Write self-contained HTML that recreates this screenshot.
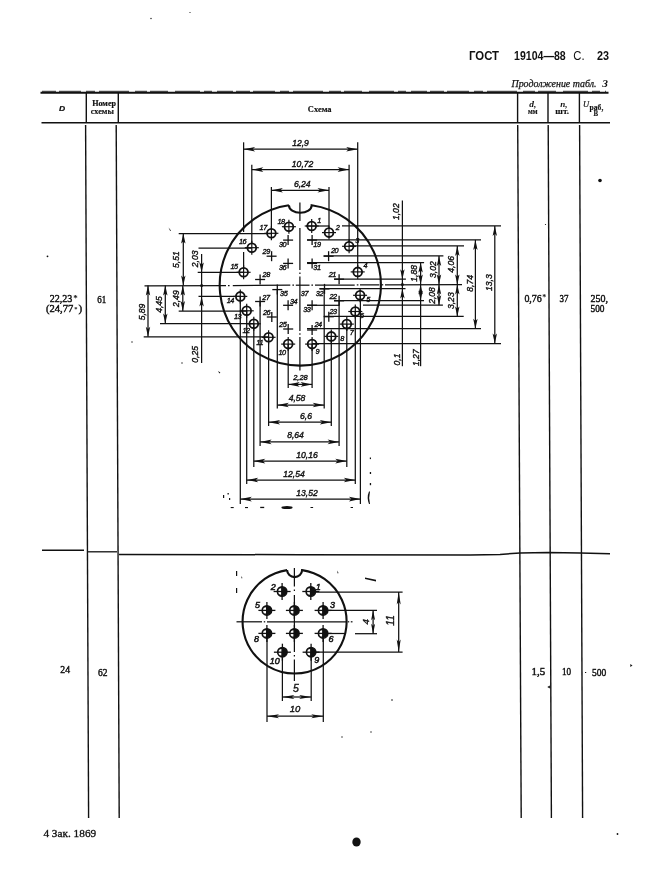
<!DOCTYPE html>
<html><head><meta charset="utf-8"><title>ГОСТ 19104-88 С. 23</title>
<style>
html,body{margin:0;padding:0;background:#fff;}
body{width:657px;height:878px;overflow:hidden;position:relative;font-family:"Liberation Serif",serif;color:#111;}
svg{position:absolute;left:0;top:0;display:block;filter:grayscale(1);}
svg text{fill:#111;}
svg text.n{letter-spacing:-0.45px;}
svg text.e{stroke-width:0.5px !important;}
svg text.d{font-family:"Liberation Sans",sans-serif;font-style:italic;fill:#111;stroke:#111;stroke-width:0.38px;}
</style></head><body>
<svg width="657" height="878" viewBox="0 0 657 878">
<g>
<text x="469" y="59.8" font-family="Liberation Sans" font-size="12.5" font-weight="bold" font-style="normal" text-anchor="start" textLength="30" lengthAdjust="spacingAndGlyphs">ГОСТ</text>
<text x="514" y="59.8" font-family="Liberation Sans" font-size="12.5" font-weight="bold" font-style="normal" text-anchor="start" textLength="51.7" lengthAdjust="spacingAndGlyphs">19104—88</text>
<text x="573.3" y="59.8" font-family="Liberation Sans" font-size="12.5" font-weight="normal" font-style="normal" text-anchor="start" textLength="11.3" lengthAdjust="spacingAndGlyphs">С.</text>
<text x="597" y="59.8" font-family="Liberation Sans" font-size="12.5" font-weight="bold" font-style="normal" text-anchor="start" textLength="12" lengthAdjust="spacingAndGlyphs">23</text>
<text x="511.5" y="87.3" font-family="Liberation Serif" font-size="10.5" font-weight="normal" font-style="italic" text-anchor="start" textLength="85" lengthAdjust="spacingAndGlyphs" stroke="#111" stroke-width="0.25">Продолжение табл.</text>
<text x="602.3" y="87.3" font-family="Liberation Serif" font-size="10.5" font-weight="bold" font-style="italic" text-anchor="start" textLength="5.7" lengthAdjust="spacingAndGlyphs">3</text>
<text x="59" y="111" font-family="Liberation Sans" font-size="7.2" font-weight="bold" font-style="italic" text-anchor="start" textLength="6.2" lengthAdjust="spacingAndGlyphs" stroke="#111" stroke-width="0.2">D</text>
<text x="92.2" y="106.1" font-family="Liberation Serif" font-size="7.8" font-weight="bold" font-style="normal" text-anchor="start" textLength="23.8" lengthAdjust="spacingAndGlyphs" stroke="#111" stroke-width="0.2">Номер</text>
<text x="90.7" y="113.7" font-family="Liberation Serif" font-size="9" font-weight="bold" font-style="normal" text-anchor="start" textLength="23.2" lengthAdjust="spacingAndGlyphs" stroke="#111" stroke-width="0.15">схемы</text>
<text x="307.8" y="111.7" font-family="Liberation Serif" font-size="9" font-weight="bold" font-style="normal" text-anchor="start" textLength="23.8" lengthAdjust="spacingAndGlyphs" stroke="#111" stroke-width="0.15">Схема</text>
<text x="529.2" y="106.7" font-family="Liberation Serif" font-size="8.5" font-weight="bold" font-style="italic" text-anchor="start" textLength="7.1" lengthAdjust="spacingAndGlyphs">d,</text>
<text x="527.9" y="113.6" font-family="Liberation Serif" font-size="9" font-weight="bold" font-style="normal" text-anchor="start" textLength="9.6" lengthAdjust="spacingAndGlyphs" stroke="#111" stroke-width="0.15">мм</text>
<text x="560.2" y="106.9" font-family="Liberation Serif" font-size="8.5" font-weight="bold" font-style="italic" text-anchor="start" textLength="7.3" lengthAdjust="spacingAndGlyphs">n,</text>
<text x="555.3" y="113.8" font-family="Liberation Serif" font-size="9" font-weight="bold" font-style="normal" text-anchor="start" textLength="13.7" lengthAdjust="spacingAndGlyphs" stroke="#111" stroke-width="0.15">шт.</text>
<text x="583" y="106.5" font-family="Liberation Serif" font-size="8.2" font-weight="normal" font-style="italic" text-anchor="start" textLength="6.1" lengthAdjust="spacingAndGlyphs" stroke="#111" stroke-width="0.2">U</text>
<text x="589.6" y="110.4" font-family="Liberation Serif" font-size="8" font-weight="bold" font-style="normal" text-anchor="start" textLength="13.7" lengthAdjust="spacingAndGlyphs" stroke="#111" stroke-width="0.15">раб,</text>
<text x="593.4" y="116" font-family="Liberation Serif" font-size="8" font-weight="bold" font-style="normal" text-anchor="start" textLength="4.6" lengthAdjust="spacingAndGlyphs" stroke="#111" stroke-width="0.15">В</text>
<text x="49.8" y="302" font-family="Liberation Serif" font-size="11" font-weight="normal" font-style="normal" text-anchor="start" textLength="22.6" lengthAdjust="spacingAndGlyphs" stroke="#111" stroke-width="0.45">22,23</text>
<text x="73.2" y="300.5" font-family="Liberation Serif" font-size="9" font-weight="bold" font-style="normal" text-anchor="start">*</text>
<text x="46" y="312" font-family="Liberation Serif" font-size="11" font-weight="normal" font-style="normal" text-anchor="start" textLength="27.2" lengthAdjust="spacingAndGlyphs" stroke="#111" stroke-width="0.45">(24,77</text>
<text x="74.3" y="310.5" font-family="Liberation Serif" font-size="6.5" font-weight="bold" font-style="normal" text-anchor="start">*</text>
<text x="78.6" y="312" font-family="Liberation Serif" font-size="11" font-weight="normal" font-style="normal" text-anchor="start" stroke="#111" stroke-width="0.45">)</text>
<text x="97.3" y="302.6" font-family="Liberation Serif" font-size="11" font-weight="normal" font-style="normal" text-anchor="start" textLength="8.9" lengthAdjust="spacingAndGlyphs" stroke="#111" stroke-width="0.45">61</text>
<text x="524.4" y="301.8" font-family="Liberation Serif" font-size="11" font-weight="normal" font-style="normal" text-anchor="start" textLength="17.4" lengthAdjust="spacingAndGlyphs" stroke="#111" stroke-width="0.45">0,76</text>
<text x="542.3" y="300" font-family="Liberation Serif" font-size="8" font-weight="bold" font-style="normal" text-anchor="start">*</text>
<text x="559.5" y="301.8" font-family="Liberation Serif" font-size="11" font-weight="normal" font-style="normal" text-anchor="start" textLength="8.9" lengthAdjust="spacingAndGlyphs" stroke="#111" stroke-width="0.45">37</text>
<text x="590.5" y="301.8" font-family="Liberation Serif" font-size="11" font-weight="normal" font-style="normal" text-anchor="start" textLength="17.5" lengthAdjust="spacingAndGlyphs" stroke="#111" stroke-width="0.45">250,</text>
<text x="590.5" y="312" font-family="Liberation Serif" font-size="11" font-weight="normal" font-style="normal" text-anchor="start" textLength="14" lengthAdjust="spacingAndGlyphs" stroke="#111" stroke-width="0.45">500</text>
<text x="60.3" y="672.8" font-family="Liberation Serif" font-size="11" font-weight="normal" font-style="normal" text-anchor="start" textLength="9.7" lengthAdjust="spacingAndGlyphs" stroke="#111" stroke-width="0.45">24</text>
<text x="98" y="675.9" font-family="Liberation Serif" font-size="11" font-weight="normal" font-style="normal" text-anchor="start" textLength="9.5" lengthAdjust="spacingAndGlyphs" stroke="#111" stroke-width="0.45">62</text>
<text x="531.6" y="675.2" font-family="Liberation Serif" font-size="11" font-weight="normal" font-style="normal" text-anchor="start" textLength="13.7" lengthAdjust="spacingAndGlyphs" stroke="#111" stroke-width="0.45">1,5</text>
<text x="562" y="675.2" font-family="Liberation Serif" font-size="11" font-weight="normal" font-style="normal" text-anchor="start" textLength="9.2" lengthAdjust="spacingAndGlyphs" stroke="#111" stroke-width="0.45">10</text>
<text x="591.9" y="675.9" font-family="Liberation Serif" font-size="11" font-weight="normal" font-style="normal" text-anchor="start" textLength="14.3" lengthAdjust="spacingAndGlyphs" stroke="#111" stroke-width="0.45">500</text>
<text x="43.4" y="836.6" font-family="Liberation Serif" font-size="10.5" font-weight="normal" font-style="normal" text-anchor="start" textLength="52.8" lengthAdjust="spacingAndGlyphs" stroke="#111" stroke-width="0.3">4 Зак. 1869</text>
</g>
<g stroke="#111" fill="none" stroke-linecap="butt">
<line x1="40.5" y1="92.7" x2="608.5" y2="92.7" stroke-width="1.9" />
<line x1="42.0" y1="91.3" x2="606.0" y2="91.3" stroke-width="0.9" stroke-dasharray="14 3 22 5 9 4 30 6 12 3 18 7 25 4 8 5 16 3"/>
<line x1="41.5" y1="122.7" x2="610.0" y2="122.7" stroke-width="1.6" />
<line x1="86.3" y1="93.0" x2="86.3" y2="122.0" stroke-width="1.4" />
<line x1="118.3" y1="93.0" x2="118.3" y2="122.0" stroke-width="1.4" />
<line x1="517.6" y1="93.0" x2="517.6" y2="122.0" stroke-width="1.4" />
<line x1="548.0" y1="93.0" x2="548.0" y2="122.0" stroke-width="1.4" />
<line x1="579.4" y1="93.0" x2="579.4" y2="122.0" stroke-width="1.4" />
<line x1="85.6" y1="125.0" x2="88.6" y2="818.0" stroke-width="1.4" />
<line x1="116.2" y1="125.0" x2="119.2" y2="818.0" stroke-width="1.4" />
<line x1="517.7" y1="125.0" x2="521.2" y2="818.0" stroke-width="1.4" />
<line x1="548.2" y1="125.0" x2="551.4" y2="818.0" stroke-width="1.4" />
<line x1="579.6" y1="125.0" x2="582.6" y2="818.0" stroke-width="1.4" />
<line x1="42.0" y1="550.2" x2="84.0" y2="550.2" stroke-width="1.5" />
<line x1="88.0" y1="551.8" x2="117.0" y2="551.8" stroke-width="1.3" />
<path d="M119,554.4 L300,554.7 L470,555 L500,554.4 L520,553 L548,552.5 L580,553.1 L610,553.7" stroke-width="1.5"/>
</g>
<g stroke="#111" fill="none">
<path d="M288.9,205.2 A80.6,80.6 0 1 0 311.7,205.2 A11.4,7.6 0 0 1 288.9,205.2" stroke-width="2.1"/>
<line x1="144.5" y1="285.9" x2="226.0" y2="285.5" stroke-width="1.25" />
<line x1="228.0" y1="285.5" x2="229.6" y2="285.5" stroke-width="1.25" />
<line x1="232.8" y1="285.5" x2="290.3" y2="285.2" stroke-width="1.25" />
<line x1="292.4" y1="285.2" x2="294.0" y2="285.2" stroke-width="1.25" />
<line x1="295.8" y1="285.2" x2="309.5" y2="285.2" stroke-width="1.25" />
<line x1="311.4" y1="285.1" x2="313.0" y2="285.1" stroke-width="1.25" />
<line x1="315.0" y1="285.1" x2="354.7" y2="285.0" stroke-width="1.25" />
<line x1="356.8" y1="284.9" x2="358.4" y2="284.9" stroke-width="1.25" />
<line x1="360.0" y1="284.9" x2="379.4" y2="284.8" stroke-width="1.25" />
<line x1="381.6" y1="284.8" x2="383.2" y2="284.8" stroke-width="1.25" />
<line x1="385.0" y1="284.8" x2="462.0" y2="284.5" stroke-width="1.25" />
<line x1="299.9" y1="202.5" x2="299.9" y2="221.0" stroke-width="1.25" />
<line x1="299.9" y1="228.0" x2="299.9" y2="270.0" stroke-width="1.25" />
<line x1="299.9" y1="272.4" x2="299.9" y2="274.0" stroke-width="1.25" />
<line x1="299.9" y1="276.5" x2="299.9" y2="331.0" stroke-width="1.25" />
<line x1="299.9" y1="333.2" x2="299.9" y2="334.8" stroke-width="1.25" />
<line x1="299.9" y1="337.0" x2="299.9" y2="370.5" stroke-width="1.25" />
<line x1="243.6" y1="142.3" x2="243.6" y2="232.0" stroke-width="1.25" />
<line x1="243.6" y1="252.0" x2="243.6" y2="268.0" stroke-width="1.25" />
<line x1="251.8" y1="164.8" x2="251.8" y2="244.0" stroke-width="1.25" />
<line x1="271.4" y1="187.0" x2="271.4" y2="229.0" stroke-width="1.25" />
<line x1="329.0" y1="187.0" x2="329.0" y2="228.0" stroke-width="1.25" />
<line x1="349.1" y1="164.8" x2="349.1" y2="242.0" stroke-width="1.25" />
<line x1="357.7" y1="142.3" x2="357.7" y2="268.0" stroke-width="1.25" />
<line x1="243.6" y1="149.2" x2="357.7" y2="149.2" stroke-width="1.25" />
<polygon points="243.6,149.2 255.1,146.9 252.6,149.2 255.1,151.5" fill="#111" stroke="none"/>
<polygon points="357.7,149.2 346.2,146.9 348.7,149.2 346.2,151.5" fill="#111" stroke="none"/>
<text x="300.5" y="143.3" class="d" font-size="8.6" text-anchor="middle" dominant-baseline="central">12,9</text>
<line x1="251.8" y1="169.6" x2="349.1" y2="169.6" stroke-width="1.25" />
<polygon points="251.8,169.6 263.3,167.3 260.8,169.6 263.3,171.9" fill="#111" stroke="none"/>
<polygon points="349.1,169.6 337.6,167.3 340.1,169.6 337.6,171.9" fill="#111" stroke="none"/>
<text x="302.6" y="163.7" class="d" font-size="8.6" text-anchor="middle" dominant-baseline="central">10,72</text>
<line x1="271.4" y1="190.3" x2="329.0" y2="190.3" stroke-width="1.25" />
<polygon points="271.4,190.3 282.9,188.0 280.4,190.3 282.9,192.6" fill="#111" stroke="none"/>
<polygon points="329.0,190.3 317.5,188.0 320.0,190.3 317.5,192.6" fill="#111" stroke="none"/>
<text x="302.3" y="184.3" class="d" font-size="8.6" text-anchor="middle" dominant-baseline="central">6,24</text>
<circle cx="311.7" cy="226.0" r="4.4" fill="none" stroke-width="1.8"/>
<line x1="304.7" y1="226.0" x2="318.7" y2="226.0" stroke-width="1.2" />
<line x1="311.7" y1="219.0" x2="311.7" y2="233.0" stroke-width="1.2" />
<circle cx="329.0" cy="232.6" r="4.4" fill="none" stroke-width="1.8"/>
<line x1="322.0" y1="232.6" x2="336.0" y2="232.6" stroke-width="1.2" />
<line x1="329.0" y1="225.6" x2="329.0" y2="239.6" stroke-width="1.2" />
<circle cx="349.1" cy="246.3" r="4.4" fill="none" stroke-width="1.8"/>
<line x1="342.1" y1="246.3" x2="356.1" y2="246.3" stroke-width="1.2" />
<line x1="349.1" y1="239.3" x2="349.1" y2="253.3" stroke-width="1.2" />
<circle cx="357.7" cy="271.9" r="4.4" fill="none" stroke-width="1.8"/>
<line x1="350.7" y1="271.9" x2="364.7" y2="271.9" stroke-width="1.2" />
<line x1="357.7" y1="264.9" x2="357.7" y2="278.9" stroke-width="1.2" />
<circle cx="360.1" cy="295.3" r="4.4" fill="none" stroke-width="1.8"/>
<line x1="353.1" y1="295.3" x2="367.1" y2="295.3" stroke-width="1.2" />
<line x1="360.1" y1="288.3" x2="360.1" y2="302.3" stroke-width="1.2" />
<circle cx="355.3" cy="311.5" r="4.4" fill="none" stroke-width="1.8"/>
<line x1="348.3" y1="311.5" x2="362.3" y2="311.5" stroke-width="1.2" />
<line x1="355.3" y1="304.5" x2="355.3" y2="318.5" stroke-width="1.2" />
<circle cx="346.8" cy="324.1" r="4.4" fill="none" stroke-width="1.8"/>
<line x1="339.8" y1="324.1" x2="353.8" y2="324.1" stroke-width="1.2" />
<line x1="346.8" y1="317.1" x2="346.8" y2="331.1" stroke-width="1.2" />
<circle cx="331.3" cy="336.4" r="4.4" fill="none" stroke-width="1.8"/>
<line x1="324.3" y1="336.4" x2="338.3" y2="336.4" stroke-width="1.2" />
<line x1="331.3" y1="329.4" x2="331.3" y2="343.4" stroke-width="1.2" />
<circle cx="312.1" cy="344.1" r="4.4" fill="none" stroke-width="1.8"/>
<line x1="305.1" y1="344.1" x2="319.1" y2="344.1" stroke-width="1.2" />
<line x1="312.1" y1="337.1" x2="312.1" y2="351.1" stroke-width="1.2" />
<circle cx="288.2" cy="344.1" r="4.4" fill="none" stroke-width="1.8"/>
<line x1="281.2" y1="344.1" x2="295.2" y2="344.1" stroke-width="1.2" />
<line x1="288.2" y1="337.1" x2="288.2" y2="351.1" stroke-width="1.2" />
<circle cx="268.6" cy="337.3" r="4.4" fill="none" stroke-width="1.8"/>
<line x1="261.6" y1="337.3" x2="275.6" y2="337.3" stroke-width="1.2" />
<line x1="268.6" y1="330.3" x2="268.6" y2="344.3" stroke-width="1.2" />
<circle cx="253.8" cy="323.8" r="4.4" fill="none" stroke-width="1.8"/>
<line x1="246.8" y1="323.8" x2="260.8" y2="323.8" stroke-width="1.2" />
<line x1="253.8" y1="316.8" x2="253.8" y2="330.8" stroke-width="1.2" />
<circle cx="246.7" cy="310.8" r="4.4" fill="none" stroke-width="1.8"/>
<line x1="239.7" y1="310.8" x2="253.7" y2="310.8" stroke-width="1.2" />
<line x1="246.7" y1="303.8" x2="246.7" y2="317.8" stroke-width="1.2" />
<circle cx="240.3" cy="296.4" r="4.4" fill="none" stroke-width="1.8"/>
<line x1="233.3" y1="296.4" x2="247.3" y2="296.4" stroke-width="1.2" />
<line x1="240.3" y1="289.4" x2="240.3" y2="303.4" stroke-width="1.2" />
<circle cx="243.6" cy="272.3" r="4.4" fill="none" stroke-width="1.8"/>
<line x1="236.6" y1="272.3" x2="250.6" y2="272.3" stroke-width="1.2" />
<line x1="243.6" y1="265.3" x2="243.6" y2="279.3" stroke-width="1.2" />
<circle cx="251.8" cy="247.7" r="4.4" fill="none" stroke-width="1.8"/>
<line x1="244.8" y1="247.7" x2="258.8" y2="247.7" stroke-width="1.2" />
<line x1="251.8" y1="240.7" x2="251.8" y2="254.7" stroke-width="1.2" />
<circle cx="271.4" cy="233.3" r="4.4" fill="none" stroke-width="1.8"/>
<line x1="264.4" y1="233.3" x2="278.4" y2="233.3" stroke-width="1.2" />
<line x1="271.4" y1="226.3" x2="271.4" y2="240.3" stroke-width="1.2" />
<circle cx="288.9" cy="226.7" r="4.4" fill="none" stroke-width="1.8"/>
<line x1="281.9" y1="226.7" x2="295.9" y2="226.7" stroke-width="1.2" />
<line x1="288.9" y1="219.7" x2="288.9" y2="233.7" stroke-width="1.2" />
<line x1="307.1" y1="240.1" x2="317.1" y2="240.1" stroke-width="1.3" />
<line x1="312.1" y1="235.1" x2="312.1" y2="245.1" stroke-width="1.3" />
<line x1="323.6" y1="256.2" x2="333.6" y2="256.2" stroke-width="1.3" />
<line x1="328.6" y1="251.2" x2="328.6" y2="261.2" stroke-width="1.3" />
<line x1="334.1" y1="279.2" x2="344.1" y2="279.2" stroke-width="1.3" />
<line x1="339.1" y1="274.2" x2="339.1" y2="284.2" stroke-width="1.3" />
<line x1="334.1" y1="300.8" x2="344.1" y2="300.8" stroke-width="1.3" />
<line x1="339.1" y1="295.8" x2="339.1" y2="305.8" stroke-width="1.3" />
<line x1="323.8" y1="316.7" x2="333.8" y2="316.7" stroke-width="1.3" />
<line x1="328.8" y1="311.7" x2="328.8" y2="321.7" stroke-width="1.3" />
<line x1="307.1" y1="330.0" x2="317.1" y2="330.0" stroke-width="1.3" />
<line x1="312.1" y1="325.0" x2="312.1" y2="335.0" stroke-width="1.3" />
<line x1="283.2" y1="329.0" x2="293.2" y2="329.0" stroke-width="1.3" />
<line x1="288.2" y1="324.0" x2="288.2" y2="334.0" stroke-width="1.3" />
<line x1="266.8" y1="317.0" x2="276.8" y2="317.0" stroke-width="1.3" />
<line x1="271.8" y1="312.0" x2="271.8" y2="322.0" stroke-width="1.3" />
<line x1="255.1" y1="301.5" x2="265.1" y2="301.5" stroke-width="1.3" />
<line x1="260.1" y1="296.5" x2="260.1" y2="306.5" stroke-width="1.3" />
<line x1="255.1" y1="279.5" x2="265.1" y2="279.5" stroke-width="1.3" />
<line x1="260.1" y1="274.5" x2="260.1" y2="284.5" stroke-width="1.3" />
<line x1="266.6" y1="256.2" x2="276.6" y2="256.2" stroke-width="1.3" />
<line x1="271.6" y1="251.2" x2="271.6" y2="261.2" stroke-width="1.3" />
<line x1="283.1" y1="240.1" x2="293.1" y2="240.1" stroke-width="1.3" />
<line x1="288.1" y1="235.1" x2="288.1" y2="245.1" stroke-width="1.3" />
<line x1="307.1" y1="263.4" x2="317.1" y2="263.4" stroke-width="1.3" />
<line x1="312.1" y1="258.4" x2="312.1" y2="268.4" stroke-width="1.3" />
<line x1="319.5" y1="288.9" x2="329.5" y2="288.9" stroke-width="1.3" />
<line x1="324.5" y1="283.9" x2="324.5" y2="293.9" stroke-width="1.3" />
<line x1="307.1" y1="305.3" x2="317.1" y2="305.3" stroke-width="1.3" />
<line x1="312.1" y1="300.3" x2="312.1" y2="310.3" stroke-width="1.3" />
<line x1="283.1" y1="305.3" x2="293.1" y2="305.3" stroke-width="1.3" />
<line x1="288.1" y1="300.3" x2="288.1" y2="310.3" stroke-width="1.3" />
<line x1="272.3" y1="289.6" x2="282.3" y2="289.6" stroke-width="1.3" />
<line x1="277.3" y1="284.6" x2="277.3" y2="294.6" stroke-width="1.3" />
<line x1="283.1" y1="263.4" x2="293.1" y2="263.4" stroke-width="1.3" />
<line x1="288.1" y1="258.4" x2="288.1" y2="268.4" stroke-width="1.3" />
<line x1="178.7" y1="233.6" x2="271.4" y2="233.6" stroke-width="1.25" />
<line x1="198.5" y1="248.0" x2="251.8" y2="248.0" stroke-width="1.25" />
<line x1="197.7" y1="272.4" x2="243.6" y2="272.4" stroke-width="1.25" />
<line x1="198.5" y1="296.4" x2="240.3" y2="296.4" stroke-width="1.25" />
<line x1="178.7" y1="311.1" x2="246.7" y2="311.1" stroke-width="1.25" />
<line x1="160.0" y1="323.6" x2="253.8" y2="323.6" stroke-width="1.25" />
<line x1="143.7" y1="336.8" x2="268.6" y2="336.8" stroke-width="1.25" />
<line x1="183.3" y1="233.6" x2="183.3" y2="285.6" stroke-width="1.25" />
<polygon points="183.3,233.6 181.1,243.6 183.3,241.4 185.5,243.6" fill="#111" stroke="none"/>
<polygon points="183.3,285.6 181.1,275.6 183.3,277.8 185.5,275.6" fill="#111" stroke="none"/>
<text transform="translate(176.4,259.6) rotate(-90)" class="d" font-size="8.6" text-anchor="middle" dominant-baseline="central">5,51</text>
<line x1="148.0" y1="285.6" x2="148.0" y2="336.8" stroke-width="1.25" />
<polygon points="148.0,285.6 145.8,295.6 148.0,293.4 150.2,295.6" fill="#111" stroke="none"/>
<polygon points="148.0,336.8 145.8,326.8 148.0,329.0 150.2,326.8" fill="#111" stroke="none"/>
<text transform="translate(141.8,312.0) rotate(-90)" class="d" font-size="8.6" text-anchor="middle" dominant-baseline="central">5,89</text>
<line x1="165.3" y1="285.6" x2="165.3" y2="323.6" stroke-width="1.25" />
<polygon points="165.3,285.6 163.1,295.6 165.3,293.4 167.5,295.6" fill="#111" stroke="none"/>
<polygon points="165.3,323.6 163.1,313.6 165.3,315.8 167.5,313.6" fill="#111" stroke="none"/>
<text transform="translate(159.0,304.5) rotate(-90)" class="d" font-size="8.6" text-anchor="middle" dominant-baseline="central">4,45</text>
<line x1="182.8" y1="285.6" x2="182.8" y2="311.1" stroke-width="1.25" />
<polygon points="182.8,285.6 180.6,295.6 182.8,293.4 185.0,295.6" fill="#111" stroke="none"/>
<polygon points="182.8,311.1 180.6,301.1 182.8,303.3 185.0,301.1" fill="#111" stroke="none"/>
<text transform="translate(176.0,298.7) rotate(-90)" class="d" font-size="8.6" text-anchor="middle" dominant-baseline="central">2,49</text>
<line x1="201.6" y1="254.0" x2="201.6" y2="363.0" stroke-width="1.25" />
<polygon points="201.6,272.4 199.4,262.4 201.6,264.6 203.8,262.4" fill="#111" stroke="none"/>
<polygon points="201.6,296.4 199.4,306.4 201.6,304.2 203.8,306.4" fill="#111" stroke="none"/>
<circle cx="201.6" cy="285.6" r="1.5" fill="#111" stroke="none"/>
<text transform="translate(195.1,258.8) rotate(-90)" class="d" font-size="8.6" text-anchor="middle" dominant-baseline="central">2,03</text>
<text transform="translate(194.9,354.4) rotate(-90)" class="d" font-size="8.6" text-anchor="middle" dominant-baseline="central">0,25</text>
<line x1="306.0" y1="226.0" x2="329.0" y2="226.0" stroke-width="1.25" />
<line x1="342.0" y1="225.9" x2="501.0" y2="225.9" stroke-width="1.25" />
<line x1="307.0" y1="239.9" x2="481.0" y2="239.9" stroke-width="1.25" />
<line x1="349.1" y1="245.9" x2="464.0" y2="245.9" stroke-width="1.25" />
<line x1="323.6" y1="255.9" x2="443.4" y2="255.9" stroke-width="1.25" />
<line x1="307.0" y1="262.6" x2="424.1" y2="262.6" stroke-width="1.25" />
<line x1="334.0" y1="279.2" x2="405.9" y2="279.2" stroke-width="1.25" />
<line x1="319.5" y1="288.5" x2="405.5" y2="288.5" stroke-width="1.25" />
<line x1="334.0" y1="300.5" x2="424.0" y2="300.5" stroke-width="1.25" />
<line x1="307.0" y1="305.3" x2="339.0" y2="305.3" stroke-width="1.25" />
<line x1="363.0" y1="305.2" x2="442.9" y2="305.2" stroke-width="1.25" />
<line x1="323.8" y1="316.4" x2="463.7" y2="316.4" stroke-width="1.25" />
<line x1="307.0" y1="328.7" x2="481.0" y2="328.7" stroke-width="1.25" />
<line x1="312.1" y1="343.5" x2="501.0" y2="343.5" stroke-width="1.25" />
<line x1="402.4" y1="200.5" x2="402.4" y2="366.2" stroke-width="1.25" />
<polygon points="402.4,279.2 400.2,269.2 402.4,271.4 404.6,269.2" fill="#111" stroke="none"/>
<polygon points="402.4,288.5 400.2,298.5 402.4,296.3 404.6,298.5" fill="#111" stroke="none"/>
<circle cx="402.4" cy="284.4" r="1.5" fill="#111" stroke="none"/>
<text transform="translate(396.4,211.7) rotate(-90)" class="d" font-size="8.6" text-anchor="middle" dominant-baseline="central">1,02</text>
<text transform="translate(396.7,359.5) rotate(-90)" class="d" font-size="8.6" text-anchor="middle" dominant-baseline="central">0,1</text>
<line x1="420.6" y1="262.6" x2="420.6" y2="366.2" stroke-width="1.25" />
<polygon points="420.6,262.6 418.4,272.6 420.6,270.4 422.8,272.6" fill="#111" stroke="none"/>
<polygon points="420.6,284.4 418.4,274.4 420.6,276.6 422.8,274.4" fill="#111" stroke="none"/>
<polygon points="420.6,284.4 418.4,294.4 420.6,292.2 422.8,294.4" fill="#111" stroke="none"/>
<polygon points="420.6,300.5 418.4,290.5 420.6,292.7 422.8,290.5" fill="#111" stroke="none"/>
<text transform="translate(413.5,273.4) rotate(-90)" class="d" font-size="8.6" text-anchor="middle" dominant-baseline="central">1,88</text>
<text transform="translate(416.2,357.7) rotate(-90)" class="d" font-size="8.6" text-anchor="middle" dominant-baseline="central">1,27</text>
<line x1="439.0" y1="255.9" x2="439.0" y2="284.4" stroke-width="1.25" />
<polygon points="439.0,255.9 436.8,265.9 439.0,263.7 441.2,265.9" fill="#111" stroke="none"/>
<polygon points="439.0,284.4 436.8,274.4 439.0,276.6 441.2,274.4" fill="#111" stroke="none"/>
<text transform="translate(432.5,269.6) rotate(-90)" class="d" font-size="8.6" text-anchor="middle" dominant-baseline="central">3,02</text>
<line x1="439.0" y1="284.4" x2="439.0" y2="305.2" stroke-width="1.25" />
<polygon points="439.0,284.4 436.8,294.4 439.0,292.2 441.2,294.4" fill="#111" stroke="none"/>
<polygon points="439.0,305.2 436.8,295.2 439.0,297.4 441.2,295.2" fill="#111" stroke="none"/>
<text transform="translate(432.3,295.5) rotate(-90)" class="d" font-size="8.6" text-anchor="middle" dominant-baseline="central">2,08</text>
<line x1="457.3" y1="245.9" x2="457.3" y2="284.4" stroke-width="1.25" />
<polygon points="457.3,245.9 455.1,255.9 457.3,253.7 459.5,255.9" fill="#111" stroke="none"/>
<polygon points="457.3,284.4 455.1,274.4 457.3,276.6 459.5,274.4" fill="#111" stroke="none"/>
<text transform="translate(450.8,264.3) rotate(-90)" class="d" font-size="8.6" text-anchor="middle" dominant-baseline="central">4,06</text>
<line x1="457.3" y1="284.4" x2="457.3" y2="316.4" stroke-width="1.25" />
<polygon points="457.3,284.4 455.1,294.4 457.3,292.2 459.5,294.4" fill="#111" stroke="none"/>
<polygon points="457.3,316.4 455.1,306.4 457.3,308.6 459.5,306.4" fill="#111" stroke="none"/>
<text transform="translate(451.0,300.7) rotate(-90)" class="d" font-size="8.6" text-anchor="middle" dominant-baseline="central">3,23</text>
<line x1="475.4" y1="239.9" x2="475.4" y2="328.7" stroke-width="1.25" />
<polygon points="475.4,239.9 473.2,249.9 475.4,247.7 477.6,249.9" fill="#111" stroke="none"/>
<polygon points="475.4,328.7 473.2,318.7 475.4,320.9 477.6,318.7" fill="#111" stroke="none"/>
<text transform="translate(469.8,283.3) rotate(-90)" class="d" font-size="8.6" text-anchor="middle" dominant-baseline="central">8,74</text>
<line x1="494.8" y1="225.9" x2="494.8" y2="343.5" stroke-width="1.25" />
<polygon points="494.8,225.9 492.6,235.9 494.8,233.7 497.0,235.9" fill="#111" stroke="none"/>
<polygon points="494.8,343.5 492.6,333.5 494.8,335.7 497.0,333.5" fill="#111" stroke="none"/>
<text transform="translate(489.3,282.6) rotate(-90)" class="d" font-size="8.6" text-anchor="middle" dominant-baseline="central">13,3</text>
<line x1="240.3" y1="296.4" x2="240.3" y2="504.0" stroke-width="1.25" />
<line x1="246.7" y1="310.8" x2="246.7" y2="484.0" stroke-width="1.25" />
<line x1="253.8" y1="323.8" x2="253.8" y2="467.0" stroke-width="1.25" />
<line x1="260.1" y1="301.5" x2="260.1" y2="446.0" stroke-width="1.25" />
<line x1="268.6" y1="337.3" x2="268.6" y2="426.0" stroke-width="1.25" />
<line x1="277.3" y1="289.6" x2="277.3" y2="408.5" stroke-width="1.25" />
<line x1="288.2" y1="344.1" x2="288.2" y2="388.0" stroke-width="1.25" />
<line x1="312.1" y1="344.1" x2="312.1" y2="388.0" stroke-width="1.25" />
<line x1="324.2" y1="288.9" x2="324.2" y2="408.5" stroke-width="1.25" />
<line x1="331.3" y1="336.4" x2="331.3" y2="426.0" stroke-width="1.25" />
<line x1="339.1" y1="300.8" x2="339.1" y2="446.0" stroke-width="1.25" />
<line x1="346.8" y1="324.1" x2="346.8" y2="467.0" stroke-width="1.25" />
<line x1="355.3" y1="311.5" x2="355.3" y2="484.0" stroke-width="1.25" />
<line x1="360.4" y1="295.3" x2="360.4" y2="504.0" stroke-width="1.25" />
<line x1="288.2" y1="384.4" x2="312.1" y2="384.4" stroke-width="1.25" />
<polygon points="288.2,384.4 299.7,382.1 297.2,384.4 299.7,386.7" fill="#111" stroke="none"/>
<polygon points="312.1,384.4 300.6,382.1 303.1,384.4 300.6,386.7" fill="#111" stroke="none"/>
<text x="300.5" y="377.5" class="d" font-size="7.5" text-anchor="middle" dominant-baseline="central">2,28</text>
<line x1="277.3" y1="405.0" x2="324.2" y2="405.0" stroke-width="1.25" />
<polygon points="277.3,405.0 288.8,402.7 286.3,405.0 288.8,407.3" fill="#111" stroke="none"/>
<polygon points="324.2,405.0 312.7,402.7 315.2,405.0 312.7,407.3" fill="#111" stroke="none"/>
<text x="297.0" y="398.0" class="d" font-size="8.6" text-anchor="middle" dominant-baseline="central">4,58</text>
<line x1="268.6" y1="422.2" x2="331.3" y2="422.2" stroke-width="1.25" />
<polygon points="268.6,422.2 280.1,419.9 277.6,422.2 280.1,424.5" fill="#111" stroke="none"/>
<polygon points="331.3,422.2 319.8,419.9 322.3,422.2 319.8,424.5" fill="#111" stroke="none"/>
<text x="306.0" y="416.0" class="d" font-size="8.6" text-anchor="middle" dominant-baseline="central">6,6</text>
<line x1="260.1" y1="441.9" x2="339.1" y2="441.9" stroke-width="1.25" />
<polygon points="260.1,441.9 271.6,439.6 269.1,441.9 271.6,444.2" fill="#111" stroke="none"/>
<polygon points="339.1,441.9 327.6,439.6 330.1,441.9 327.6,444.2" fill="#111" stroke="none"/>
<text x="295.5" y="435.0" class="d" font-size="8.6" text-anchor="middle" dominant-baseline="central">8,64</text>
<line x1="253.8" y1="461.1" x2="346.8" y2="461.1" stroke-width="1.25" />
<polygon points="253.8,461.1 265.3,458.8 262.8,461.1 265.3,463.4" fill="#111" stroke="none"/>
<polygon points="346.8,461.1 335.3,458.8 337.8,461.1 335.3,463.4" fill="#111" stroke="none"/>
<text x="307.0" y="454.5" class="d" font-size="8.6" text-anchor="middle" dominant-baseline="central">10,16</text>
<line x1="246.7" y1="480.0" x2="355.3" y2="480.0" stroke-width="1.25" />
<polygon points="246.7,480.0 258.2,477.7 255.7,480.0 258.2,482.3" fill="#111" stroke="none"/>
<polygon points="355.3,480.0 343.8,477.7 346.3,480.0 343.8,482.3" fill="#111" stroke="none"/>
<text x="294.0" y="474.0" class="d" font-size="8.6" text-anchor="middle" dominant-baseline="central">12,54</text>
<line x1="240.3" y1="499.1" x2="360.4" y2="499.1" stroke-width="1.25" />
<polygon points="240.3,499.1 251.8,496.8 249.3,499.1 251.8,501.4" fill="#111" stroke="none"/>
<polygon points="360.4,499.1 348.9,496.8 351.4,499.1 348.9,501.4" fill="#111" stroke="none"/>
<text x="307.0" y="492.5" class="d" font-size="8.6" text-anchor="middle" dominant-baseline="central">13,52</text>
</g>
<text x="281.0" y="221.2" class="d n" font-size="7.3" text-anchor="middle" dominant-baseline="central">18</text>
<text x="263.2" y="227.1" class="d n" font-size="7.3" text-anchor="middle" dominant-baseline="central">17</text>
<text x="242.6" y="241.1" class="d n" font-size="7.3" text-anchor="middle" dominant-baseline="central">16</text>
<text x="234.1" y="266.0" class="d n" font-size="7.3" text-anchor="middle" dominant-baseline="central">15</text>
<text x="282.6" y="244.5" class="d n" font-size="7.3" text-anchor="middle" dominant-baseline="central">30</text>
<text x="266.2" y="251.4" class="d n" font-size="7.3" text-anchor="middle" dominant-baseline="central">29</text>
<text x="282.6" y="267.8" class="d n" font-size="7.3" text-anchor="middle" dominant-baseline="central">36</text>
<text x="266.2" y="274.7" class="d n" font-size="7.3" text-anchor="middle" dominant-baseline="central">28</text>
<text x="319.4" y="220.8" class="d" font-size="7.3" text-anchor="middle" dominant-baseline="central">1</text>
<text x="337.9" y="227.4" class="d" font-size="7.3" text-anchor="middle" dominant-baseline="central">2</text>
<text x="357.3" y="240.7" class="d" font-size="7.3" text-anchor="middle" dominant-baseline="central">3</text>
<text x="365.5" y="265.5" class="d" font-size="7.3" text-anchor="middle" dominant-baseline="central">4</text>
<text x="316.9" y="244.5" class="d n" font-size="7.3" text-anchor="middle" dominant-baseline="central">19</text>
<text x="334.5" y="250.7" class="d n" font-size="7.3" text-anchor="middle" dominant-baseline="central">20</text>
<text x="316.9" y="267.1" class="d n" font-size="7.3" text-anchor="middle" dominant-baseline="central">31</text>
<text x="332.3" y="274.0" class="d n" font-size="7.3" text-anchor="middle" dominant-baseline="central">21</text>
<text x="230.3" y="300.5" class="d n" font-size="7.3" text-anchor="middle" dominant-baseline="central">14</text>
<text x="237.5" y="316.3" class="d n" font-size="7.3" text-anchor="middle" dominant-baseline="central">13</text>
<text x="246.0" y="330.0" class="d n" font-size="7.3" text-anchor="middle" dominant-baseline="central">12</text>
<text x="259.7" y="342.3" class="d n" font-size="7.3" text-anchor="middle" dominant-baseline="central">11</text>
<text x="282.0" y="352.2" class="d n" font-size="7.3" text-anchor="middle" dominant-baseline="central">10</text>
<text x="283.7" y="293.7" class="d n" font-size="7.3" text-anchor="middle" dominant-baseline="central">35</text>
<text x="265.9" y="297.1" class="d n" font-size="7.3" text-anchor="middle" dominant-baseline="central">27</text>
<text x="293.6" y="301.2" class="d n" font-size="7.3" text-anchor="middle" dominant-baseline="central">34</text>
<text x="266.6" y="312.2" class="d n" font-size="7.3" text-anchor="middle" dominant-baseline="central">26</text>
<text x="282.7" y="324.5" class="d n" font-size="7.3" text-anchor="middle" dominant-baseline="central">25</text>
<text x="304.4" y="293.0" class="d n" font-size="7.3" text-anchor="middle" dominant-baseline="central">37</text>
<text x="368.3" y="299.9" class="d" font-size="7.3" text-anchor="middle" dominant-baseline="central">5</text>
<text x="362.1" y="315.9" class="d" font-size="7.3" text-anchor="middle" dominant-baseline="central">6</text>
<text x="351.8" y="332.7" class="d" font-size="7.3" text-anchor="middle" dominant-baseline="central">7</text>
<text x="342.3" y="338.6" class="d" font-size="7.3" text-anchor="middle" dominant-baseline="central">8</text>
<text x="317.6" y="351.9" class="d" font-size="7.3" text-anchor="middle" dominant-baseline="central">9</text>
<text x="319.4" y="293.0" class="d n" font-size="7.3" text-anchor="middle" dominant-baseline="central">32</text>
<text x="333.1" y="296.4" class="d n" font-size="7.3" text-anchor="middle" dominant-baseline="central">22</text>
<text x="306.8" y="309.5" class="d n" font-size="7.3" text-anchor="middle" dominant-baseline="central">33</text>
<text x="333.1" y="311.2" class="d n" font-size="7.3" text-anchor="middle" dominant-baseline="central">23</text>
<text x="318.0" y="324.1" class="d n" font-size="7.3" text-anchor="middle" dominant-baseline="central">24</text>
<g stroke="#111" fill="none">
<path d="M287.1,570.1 A52,52 0 1 0 302.1,570.1 A7.5,7 0 0 1 287.1,570.1" stroke-width="2.1"/>
<line x1="236.5" y1="621.8" x2="262.0" y2="621.8" stroke-width="1.25" />
<line x1="263.8" y1="621.8" x2="265.2" y2="621.8" stroke-width="1.25" />
<line x1="267.0" y1="621.8" x2="346.0" y2="621.8" stroke-width="1.25" />
<line x1="347.8" y1="621.8" x2="349.2" y2="621.8" stroke-width="1.25" />
<line x1="350.8" y1="621.8" x2="352.5" y2="621.8" stroke-width="1.25" />
<line x1="294.4" y1="568.0" x2="294.4" y2="586.5" stroke-width="1.25" />
<line x1="294.4" y1="589.5" x2="294.4" y2="591.0" stroke-width="1.25" />
<line x1="294.4" y1="595.0" x2="294.4" y2="652.0" stroke-width="1.25" />
<line x1="294.4" y1="655.0" x2="294.4" y2="656.5" stroke-width="1.25" />
<line x1="294.4" y1="659.5" x2="294.4" y2="681.0" stroke-width="1.25" />
<circle cx="282.1" cy="591.5" r="4.7" fill="#111" stroke-width="1.6"/>
<path d="M281.2,588.3 A2.9,3.2 0 0 0 281.2,594.7 Z" fill="#fff" stroke="none"/>
<line x1="273.6" y1="591.5" x2="290.6" y2="591.5" stroke-width="1.3" />
<line x1="282.1" y1="583.0" x2="282.1" y2="600.0" stroke-width="1.3" />
<circle cx="310.8" cy="591.5" r="4.7" fill="#111" stroke-width="1.6"/>
<path d="M309.9,588.3 A2.9,3.2 0 0 0 309.9,594.7 Z" fill="#fff" stroke="none"/>
<line x1="302.3" y1="591.5" x2="319.3" y2="591.5" stroke-width="1.3" />
<line x1="310.8" y1="583.0" x2="310.8" y2="600.0" stroke-width="1.3" />
<circle cx="266.9" cy="610.4" r="4.7" fill="#111" stroke-width="1.6"/>
<path d="M266.0,607.2 A2.9,3.2 0 0 0 266.0,613.6 Z" fill="#fff" stroke="none"/>
<line x1="258.4" y1="610.4" x2="275.4" y2="610.4" stroke-width="1.3" />
<line x1="266.9" y1="601.9" x2="266.9" y2="618.9" stroke-width="1.3" />
<circle cx="294.4" cy="610.4" r="4.7" fill="#111" stroke-width="1.6"/>
<path d="M293.5,607.2 A2.9,3.2 0 0 0 293.5,613.6 Z" fill="#fff" stroke="none"/>
<line x1="285.9" y1="610.4" x2="302.9" y2="610.4" stroke-width="1.3" />
<line x1="294.4" y1="601.9" x2="294.4" y2="618.9" stroke-width="1.3" />
<circle cx="323.1" cy="610.4" r="4.7" fill="#111" stroke-width="1.6"/>
<path d="M322.2,607.2 A2.9,3.2 0 0 0 322.2,613.6 Z" fill="#fff" stroke="none"/>
<line x1="314.6" y1="610.4" x2="331.6" y2="610.4" stroke-width="1.3" />
<line x1="323.1" y1="601.9" x2="323.1" y2="618.9" stroke-width="1.3" />
<circle cx="266.9" cy="633.4" r="4.7" fill="#111" stroke-width="1.6"/>
<path d="M266.0,630.2 A2.9,3.2 0 0 0 266.0,636.6 Z" fill="#fff" stroke="none"/>
<line x1="258.4" y1="633.4" x2="275.4" y2="633.4" stroke-width="1.3" />
<line x1="266.9" y1="624.9" x2="266.9" y2="641.9" stroke-width="1.3" />
<circle cx="294.4" cy="633.4" r="4.7" fill="#111" stroke-width="1.6"/>
<path d="M293.5,630.2 A2.9,3.2 0 0 0 293.5,636.6 Z" fill="#fff" stroke="none"/>
<line x1="285.9" y1="633.4" x2="302.9" y2="633.4" stroke-width="1.3" />
<line x1="294.4" y1="624.9" x2="294.4" y2="641.9" stroke-width="1.3" />
<circle cx="323.1" cy="633.4" r="4.7" fill="#111" stroke-width="1.6"/>
<path d="M322.2,630.2 A2.9,3.2 0 0 0 322.2,636.6 Z" fill="#fff" stroke="none"/>
<line x1="314.6" y1="633.4" x2="331.6" y2="633.4" stroke-width="1.3" />
<line x1="323.1" y1="624.9" x2="323.1" y2="641.9" stroke-width="1.3" />
<circle cx="282.4" cy="652.2" r="4.7" fill="#111" stroke-width="1.6"/>
<path d="M281.5,649.0 A2.9,3.2 0 0 0 281.5,655.4 Z" fill="#fff" stroke="none"/>
<line x1="273.9" y1="652.2" x2="290.9" y2="652.2" stroke-width="1.3" />
<line x1="282.4" y1="643.7" x2="282.4" y2="660.7" stroke-width="1.3" />
<circle cx="311.1" cy="652.2" r="4.7" fill="#111" stroke-width="1.6"/>
<path d="M310.2,649.0 A2.9,3.2 0 0 0 310.2,655.4 Z" fill="#fff" stroke="none"/>
<line x1="302.6" y1="652.2" x2="319.6" y2="652.2" stroke-width="1.3" />
<line x1="311.1" y1="643.7" x2="311.1" y2="660.7" stroke-width="1.3" />
<line x1="310.8" y1="592.0" x2="402.6" y2="592.0" stroke-width="1.25" />
<line x1="323.1" y1="610.4" x2="377.0" y2="610.4" stroke-width="1.25" />
<line x1="323.1" y1="633.5" x2="345.0" y2="633.5" stroke-width="1.25" />
<line x1="355.0" y1="633.7" x2="377.0" y2="633.7" stroke-width="1.25" />
<line x1="311.1" y1="652.2" x2="402.6" y2="652.2" stroke-width="1.25" />
<line x1="373.1" y1="610.2" x2="373.1" y2="633.7" stroke-width="1.25" />
<polygon points="373.1,610.2 371.1,620.2 373.1,618.0 375.1,620.2" fill="#111" stroke="none"/>
<polygon points="373.1,633.7 371.1,623.7 373.1,625.9 375.1,623.7" fill="#111" stroke="none"/>
<text transform="translate(365.5,621.8) rotate(-90)" class="d" font-size="9.5" text-anchor="middle" dominant-baseline="central">4</text>
<line x1="398.7" y1="592.0" x2="398.7" y2="652.0" stroke-width="1.25" />
<polygon points="398.7,592.0 396.7,604.5 398.7,601.8 400.7,604.5" fill="#111" stroke="none"/>
<polygon points="398.7,652.0 396.7,639.5 398.7,642.2 400.7,639.5" fill="#111" stroke="none"/>
<text transform="translate(390.5,620.5) rotate(-90)" class="d" font-size="10" text-anchor="middle" dominant-baseline="central">11</text>
<line x1="267.0" y1="633.3" x2="267.0" y2="722.0" stroke-width="1.25" />
<line x1="282.4" y1="652.0" x2="282.4" y2="701.0" stroke-width="1.25" />
<line x1="311.2" y1="652.0" x2="311.2" y2="701.0" stroke-width="1.25" />
<line x1="323.3" y1="633.3" x2="323.3" y2="722.0" stroke-width="1.25" />
<line x1="282.4" y1="697.0" x2="311.2" y2="697.0" stroke-width="1.25" />
<polygon points="282.4,697.0 294.4,695.0 291.8,697.0 294.4,699.0" fill="#111" stroke="none"/>
<polygon points="311.2,697.0 299.2,695.0 301.8,697.0 299.2,699.0" fill="#111" stroke="none"/>
<text x="296.0" y="688.0" class="d" font-size="10.5" text-anchor="middle" dominant-baseline="central">5</text>
<line x1="267.0" y1="716.2" x2="323.3" y2="716.2" stroke-width="1.25" />
<polygon points="267.0,716.2 279.0,714.2 276.4,716.2 279.0,718.2" fill="#111" stroke="none"/>
<polygon points="323.3,716.2 311.3,714.2 313.9,716.2 311.3,718.2" fill="#111" stroke="none"/>
<text x="295.0" y="708.5" class="d" font-size="9.5" text-anchor="middle" dominant-baseline="central">10</text>
</g>
<text x="273.3" y="587.4" class="d e" font-size="9" text-anchor="middle" dominant-baseline="central">2</text>
<text x="318.3" y="586.8" class="d e" font-size="9" text-anchor="middle" dominant-baseline="central">1</text>
<text x="257.4" y="605.0" class="d e" font-size="9" text-anchor="middle" dominant-baseline="central">5</text>
<text x="332.6" y="605.0" class="d e" font-size="9" text-anchor="middle" dominant-baseline="central">3</text>
<text x="256.5" y="638.5" class="d e" font-size="9" text-anchor="middle" dominant-baseline="central">8</text>
<text x="331.1" y="638.5" class="d e" font-size="9" text-anchor="middle" dominant-baseline="central">6</text>
<text x="274.8" y="660.5" class="d e" font-size="9" text-anchor="middle" dominant-baseline="central">10</text>
<text x="316.8" y="659.8" class="d e" font-size="9" text-anchor="middle" dominant-baseline="central">9</text>
<g fill="#111" stroke="none">
<ellipse cx="356.5" cy="842" rx="4.2" ry="4.5"/>
<circle cx="600" cy="180.5" r="1.8"/>
<circle cx="617.5" cy="834" r="0.9"/>
<path d="M630.3,664 l2.2,1.5 l-2.2,1.5z"/>
<path d="M547.3,687 l2.6,-1.6 l0,3.2z"/><rect x="585" y="672" width="1.2" height="1"/>
<ellipse cx="287" cy="507.4" rx="5.6" ry="1.5"/>
<rect x="230.7" y="507" width="3" height="1.1"/><rect x="245" y="507" width="3" height="1.1"/><rect x="260.2" y="506.8" width="4" height="1.3"/><rect x="310.5" y="507" width="2.6" height="1"/><rect x="350.6" y="507" width="2.4" height="1"/>
<path d="M369,491.5 q-2.6,6 0,12.5 l1,0 q-1.6,-6.5 0,-12.5z"/><rect x="369.8" y="483" width="1.3" height="2.2"/><rect x="369.8" y="472" width="1.3" height="2"/><rect x="369.8" y="457.5" width="1.2" height="1.6"/>
<rect x="223" y="495" width="1.2" height="3"/><rect x="227.5" y="493" width="1.3" height="1.5"/><rect x="229" y="498" width="1.2" height="2"/>
<rect x="236" y="571" width="1.2" height="5"/><rect x="236" y="588" width="1.2" height="5"/>
<path d="M365,577.5 l11,2.3 l0,1.6 l-11,-2.3z"/>
<circle cx="47.5" cy="256.3" r="0.9"/><path d="M168.5,227.5 l2.5,3 l-0.8,0.5z"/><circle cx="132" cy="342" r="0.7"/><circle cx="182" cy="363" r="0.7"/><path d="M218,371 l2.4,1.6 l-1,0.8z"/>
<circle cx="151" cy="18.5" r="0.7"/><circle cx="190" cy="12.5" r="0.6"/><circle cx="392" cy="700" r="0.8"/><circle cx="371" cy="732" r="0.7"/><circle cx="342" cy="737" r="0.7"/>
<path d="M337,570.5 l1.6,2.4 l-0.9,0.5z"/><path d="M241,576 l1.5,2 l-0.8,0.5z"/><circle cx="545.5" cy="224.5" r="0.6"/>
</g>
</svg>
</body></html>
